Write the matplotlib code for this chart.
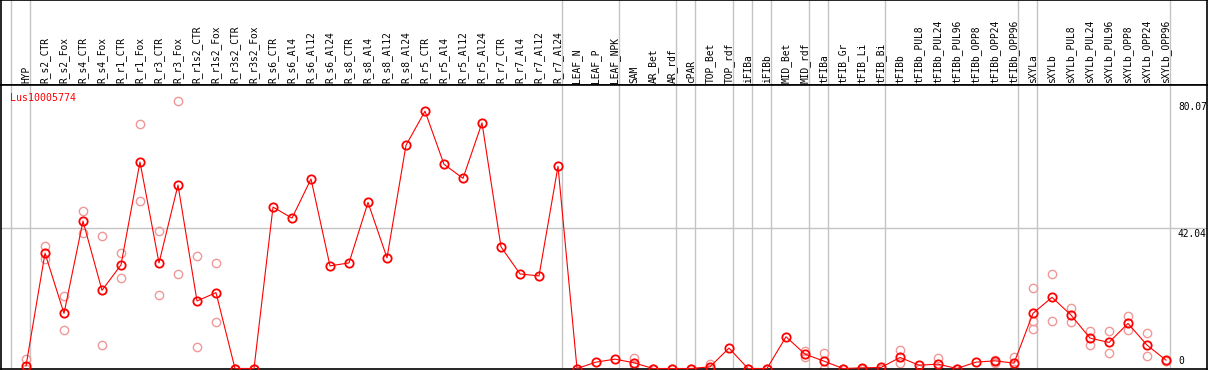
import numpy as np
import matplotlib
matplotlib.use("Agg")
import matplotlib.pyplot as plt
from matplotlib.transforms import blended_transform_factory, offset_copy

# ---------------- data ----------------
categories = [
    "HYP", "R_s2_CTR", "R_s2_Fox", "R_s4_CTR", "R_s4_Fox", "R_r1_CTR", "R_r1_Fox",
    "R_r3_CTR", "R_r3_Fox", "R_r1s2_CTR", "R_r1s2_Fox", "R_r3s2_CTR", "R_r3s2_Fox",
    "R_s6_CTR", "R_s6_Al4", "R_s6_Al12", "R_s6_Al24", "R_s8_CTR", "R_s8_Al4",
    "R_s8_Al12", "R_s8_Al24", "R_r5_CTR", "R_r5_Al4", "R_r5_Al12", "R_r5_Al24",
    "R_r7_CTR", "R_r7_Al4", "R_r7_Al12", "R_r7_Al24", "LEAF_N", "LEAF_P", "LEAF_NPK",
    "SAM", "AR_Bet", "AR_rdf", "cPAR", "TOP_Bet", "TOP_rdf", "iFIBa", "iFIBb",
    "MID_Bet", "MID_rdf", "tFIBa", "tFIB_Gr", "tFIB_Li", "tFIB_Bi", "tFIBb",
    "tFIBb_PUL8", "tFIBb_PUL24", "tFIBb_PUL96", "tFIBb_OPP8", "tFIBb_OPP24",
    "tFIBb_OPP96", "sXYLa", "sXYLb", "sXYLb_PUL8", "sXYLb_PUL24", "sXYLb_PUL96",
    "sXYLb_OPP8", "sXYLb_OPP24", "sXYLb_OPP96",
]

mean_values = [
    0.75, 34.5, 16.5, 44.1, 23.4, 31.0, 61.8, 31.6, 54.9, 20.2, 22.7, 0.0, 0.0,
    48.3, 45.0, 56.7, 30.7, 31.6, 49.7, 33.1, 66.8, 77.0, 61.1, 56.9, 73.5,
    36.4, 28.3, 27.7, 60.5, 0.0, 1.9, 2.8,
    1.7, 0.0, 0.0, 0.0, 0.5, 6.1, 0.0, 0.0,
    9.5, 4.3, 2.2, 0.0, 0.2, 0.3, 3.3,
    1.0, 1.3, 0.0, 1.9, 2.3, 1.6,
    16.5, 21.3, 16.0, 9.1, 7.8, 13.5, 7.0, 2.5,
]

# replicate values per category (empty list = no replicate shown)
replicates = [
    [2.9, 0.0], [36.7, 32.8], [21.7, 11.5], [47.1, 40.6], [39.6, 6.9], [34.6, 27.0],
    [73.1, 50.1], [41.1, 22.0], [80.07, 28.4], [33.7, 6.4], [31.6, 13.9], [0.0, 0.0], [0.0, 0.0],
    [], [], [], [], [], [], [], [], [], [], [], [], [], [], [], [],
    [], [], [],
    [3.1, 1.1], [0.0, 0.0], [0.0, 0.0], [0.0, 0.0], [1.3, 0.0], [], [0.0, 0.0], [0.0, 0.0],
    [], [5.3, 3.5], [4.5, 0.0], [0.0, 0.0], [0.0, 0.0], [0.0, 0.0], [5.5, 1.5],
    [0.0, 0.0], [3.1, 0.0], [0.0, 0.0], [], [2.5, 1.6], [3.5, 0.0],
    [24.0, 14.1, 11.7], [28.2, 14.1], [18.1, 13.8], [11.2, 7.0], [11.2, 4.5],
    [15.6, 11.5], [10.5, 3.7], [2.3, 2.2],
]

# indices after which a group separator line is drawn
group_ends = [-1, 0, 28, 31, 34, 35, 37, 38, 39, 41, 42, 45, 52, 53, 60]

y_ticks = [0, 42.04, 80.07]
gene_name = "Lus10005774"

# ---------------- layout ----------------
W, H = 1209, 370
fig = plt.figure(figsize=(W / 100, H / 100), dpi=100)

left_px, right_px = 1, 1207
header_top, header_bot, plot_bot = 0, 85, 369

def fx(p):
    return p / W

def fy(p):
    return 1 - p / H

ax_h = fig.add_axes([fx(left_px), fy(header_bot), fx(right_px - left_px),
                     (header_bot - header_top) / H])
ax = fig.add_axes([fx(left_px), fy(plot_bot), fx(right_px - left_px),
                   (plot_bot - header_bot) / H])

# x: category i at pixel 26 + 19*i
x0_px, dx_px = 26.0, 19.0
xlim = ((left_px - x0_px) / dx_px, (right_px - x0_px) / dx_px)

# y: value 0 at pixel 368.5, 3.342 px per unit
y0_px, sy = 368.5, 3.342
ylim = ((y0_px - plot_bot) / sy, (y0_px - header_bot) / sy)

for a in (ax, ax_h):
    a.set_xlim(*xlim)
    a.set_xticks([])
    a.set_yticks([])
    for s in a.spines.values():
        s.set_color("black")
        s.set_linewidth(1.2)
ax.set_ylim(*ylim)
ax_h.set_ylim(0, 1)

grid_col = "#c4c4c4"
for g in group_ends:
    xg = g + 4.0 / dx_px
    for a in (ax, ax_h):
        a.axvline(xg, color=grid_col, lw=1.0, zorder=0)
ax.axhline(42.04, color=grid_col, lw=1.0, zorder=0)

x = np.arange(len(categories))

# replicates
rx, ry = [], []
for i, reps in enumerate(replicates):
    for v in reps:
        rx.append(i)
        ry.append(v)
ax.plot(rx, ry, linestyle="none", marker="o", markersize=6.0, markerfacecolor="none",
        markeredgecolor="#f09898", markeredgewidth=1.0, zorder=2)

# means
ax.plot(x, mean_values, color="#ff0000", lw=0.8, zorder=3)
ax.plot(x, mean_values, linestyle="none", marker="o", markersize=6.0,
        markerfacecolor="none", markeredgecolor="#ff0000", markeredgewidth=1.3, zorder=4)

mono = "DejaVu Sans Mono"

# category labels in header
trh = blended_transform_factory(ax_h.transData, ax_h.transAxes)
for i, c in enumerate(categories):
    ax_h.text(i, 2.0 / 85, c, rotation=90, ha="center", va="bottom",
              fontsize=6.9, family=mono, transform=trh)

# gene name
ax.text((10 - left_px) / (right_px - left_px), 1 - (97.7 - header_bot) / (plot_bot - header_bot),
        gene_name, color="#ff0000", fontsize=7.1, family=mono, ha="left", va="center",
        transform=ax.transAxes)

# y tick labels on the right, inside the frame
try_ = blended_transform_factory(ax.transAxes, ax.transData)
lab_x = (1178 - left_px) / (right_px - left_px)
for v in y_ticks:
    if v == 0:
        ax.text(lab_x, v, "0", ha="left", va="bottom", fontsize=6.9, family=mono,
                transform=offset_copy(try_, fig=fig, x=0, y=2, units="dots"))
    else:
        ax.text(lab_x, v, f"{v:.2f}", ha="left", va="top", fontsize=6.9, family=mono,
                transform=offset_copy(try_, fig=fig, x=0, y=-1, units="dots"))

fig.savefig("out.png", dpi=100)
